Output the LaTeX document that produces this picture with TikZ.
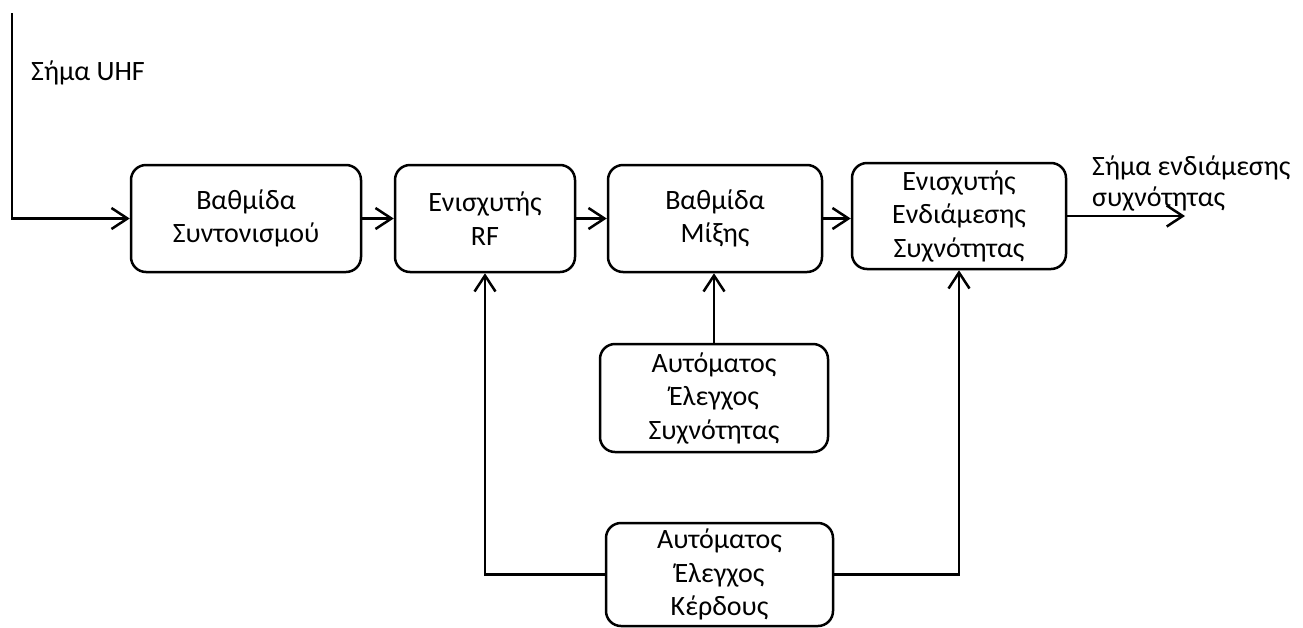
\documentclass[tikz,border=0pt]{standalone}
\usepackage{fontspec}
\setmainfont{Carlito}
\usetikzlibrary{arrows.meta}
\begin{document}
\begin{tikzpicture}[x=1pt,y=-1pt,
  block/.style={draw, line width=2.5pt, rounded corners=15pt, align=center,
    inner sep=0pt, font=\fontsize{28}{33.5}\selectfont},
  wire/.style={line width=2.5pt},
  flow/.style={wire, -{Straight Barb[length=16pt,width=21pt,line width=2.5pt]}},
  lbl/.style={font=\fontsize{28}{31}\selectfont, inner sep=0pt}]
  \useasboundingbox (0,0) rectangle (1303,627);

  % main signal chain
  \node[block, minimum width=230pt, minimum height=107pt] (b1) at (246,218.5) {Βαθμίδα\\Συντονισμού};
  \node[block, minimum width=180pt, minimum height=107pt] (b2) at (485,218.5) {Ενισχυτής\\RF};
  \node[block, minimum width=214pt, minimum height=107pt] (b3) at (715,218.5) {Βαθμίδα\\Μίξης};
  \node[block, minimum width=214pt, minimum height=106pt] (b4) at (959,216) {Ενισχυτής\\Ενδιάμεσης\\Συχνότητας};

  % control blocks
  \node[block, minimum width=228pt, minimum height=108pt] (b5) at (714,398) {Αυτόματος\\Έλεγχος\\Συχνότητας};
  \node[block, minimum width=227pt, minimum height=103pt] (b6) at (719.5,574.5) {Αυτόματος\\Έλεγχος\\Κέρδους};

  % input and output
  \coordinate (in) at (12,13);
  \coordinate (out) at (1185,216);
  \node[lbl, anchor=west] (uhf) at (31,73) {Σήμα UHF};
  \node[lbl, anchor=north west, align=left] (iflbl) at (1092,156) {Σήμα ενδιάμεσης\\συχνότητας};

  \draw[flow] (in) |- (b1.west);
  \draw[flow] (b1.east) -- (b2.west);
  \draw[flow] (b2.east) -- (b3.west);
  \draw[flow] (b3.east) -- (b4.west |- b3.east);
  \draw[flow] (b4.east) -- (out);

  \draw[flow] (b5.north) -- (b5.north |- b3.south);
  \draw[flow] (b6.west) -| (b2.south);
  \draw[flow] (b6.east) -| (b4.south);
\end{tikzpicture}
\end{document}
